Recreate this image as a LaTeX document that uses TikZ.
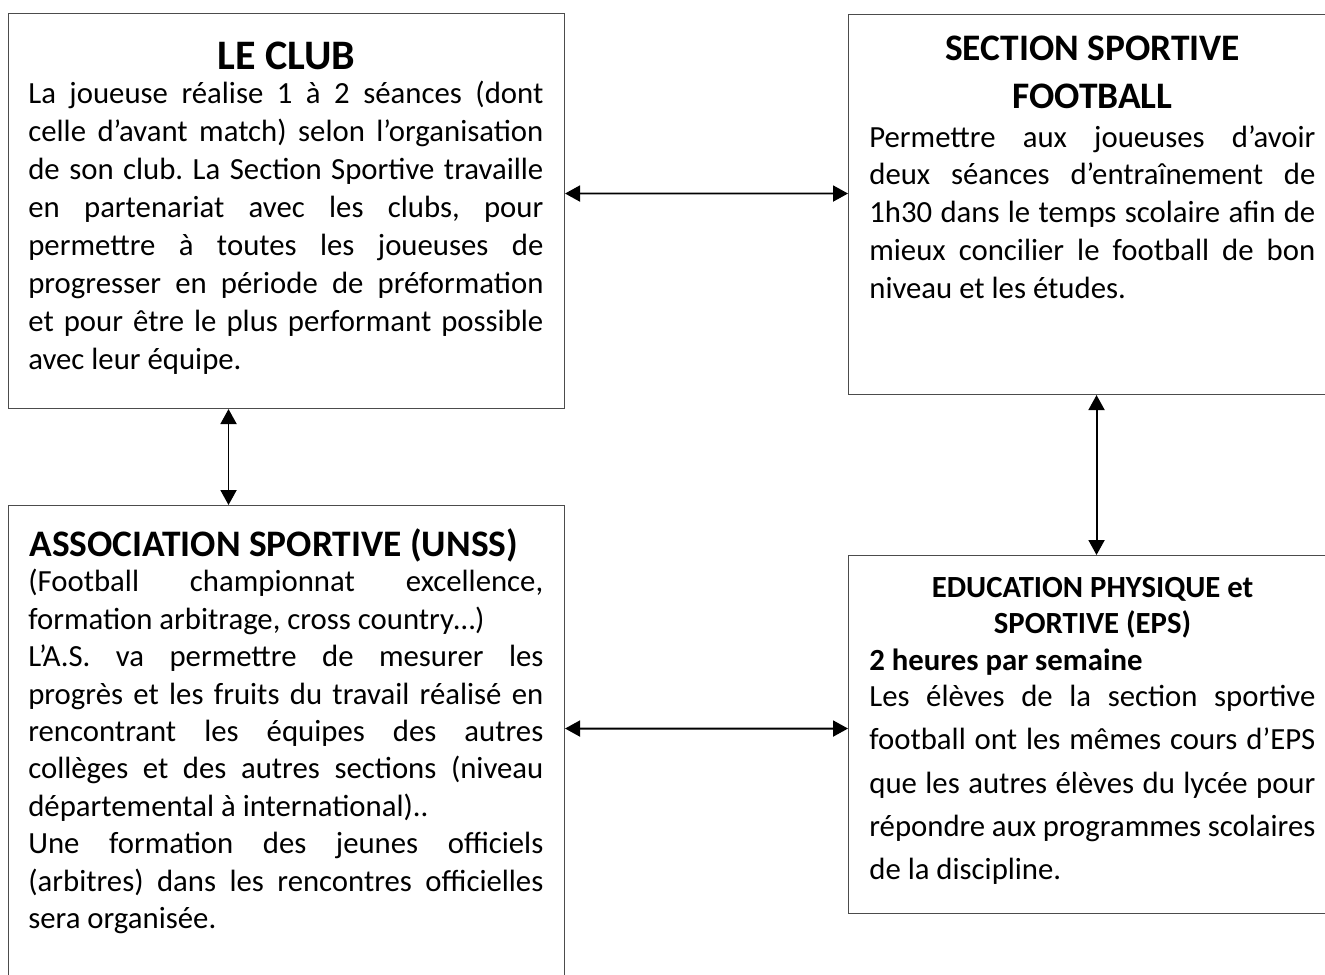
\documentclass[tikz,border=0pt]{standalone}
\usepackage{fontspec}
\setmainfont{Carlito}
\frenchspacing
\usetikzlibrary{arrows.meta}
\tikzset{
  box frame/.style={
    draw=black!70,
    line width=0.6pt,
    anchor=north west,
    inner sep=0pt
  },
  box title/.style={
    inner sep=0pt,
    align=center,
    font=\bfseries\fontsize{21.3}{27.2}\selectfont
  },
  box text/.style={
    anchor=north west,
    inner sep=0pt,
    align=justify,
    font=\fontsize{17.5}{21.6}\selectfont
  },
  link/.style={
    {Triangle[length=0.3cm,width=0.32cm]}-{Triangle[length=0.3cm,width=0.32cm]},
    line width=1.1pt
  }
}

\begin{document}
\begin{tikzpicture}
\useasboundingbox (0,0) rectangle (26.5,-19.48);
\node (club) at (0.16,-0.26) [box frame,minimum width=11.12cm,minimum height=7.9cm] {};
\node (section) at (16.96,-0.28) [box frame,minimum width=9.76cm,minimum height=7.6cm] {};
\node (as) at (0.16,-10.1) [box frame,minimum width=11.12cm,minimum height=9.8cm] {};
\node (eps) at (16.96,-11.1) [box frame,minimum width=9.76cm,minimum height=7.16cm] {};

\node (clubtitle) at ([yshift=-1.12cm]club.north) [box title,anchor=base,
  font=\bfseries\fontsize{23.9}{28}\selectfont] {LE CLUB};
\node (clubtext) at ([xshift=0.4cm,yshift=-1.36cm]club.north west) [box text,text width=10.3cm] {%
La joueuse réalise 1 à 2 séances (dont\linebreak
celle d’avant match) selon l’organisation\linebreak
de son club. La Section Sportive travaille\linebreak
en partenariat avec les clubs, pour\linebreak
permettre à toutes les joueuses de\linebreak
progresser en période de préformation\linebreak
et pour être le plus performant possible\linebreak
avec leur équipe.};

\node (sectiontitle) at ([yshift=-0.44cm]section.north) [box title,anchor=north]
  {SECTION SPORTIVE\\FOOTBALL};
\node (sectiontext) at ([xshift=0.42cm,yshift=-2.22cm]section.north west) [box text,text width=8.92cm] {%
Permettre aux joueuses d’avoir\linebreak
deux séances d’entraînement de\linebreak
1h30 dans le temps scolaire afin de\linebreak
mieux concilier le football de bon\linebreak
niveau et les études.};

\node (astitle) at ([xshift=0.42cm,yshift=-1.02cm]as.north west) [box title,anchor=base west]
  {ASSOCIATION SPORTIVE (UNSS)};
\node (astext) at ([xshift=0.4cm,yshift=-1.28cm]as.north west) [box text,text width=10.3cm,
  font=\fontsize{17.5}{21.3}\selectfont] {%
(Football championnat excellence,\linebreak
formation arbitrage, cross country…)\par
L’A.S. va permettre de mesurer les\linebreak
progrès et les fruits du travail réalisé en\linebreak
rencontrant les équipes des autres\linebreak
collèges et des autres sections (niveau\linebreak
départemental à international)..\par
Une formation des jeunes officiels\linebreak
(arbitres) dans les rencontres officielles\linebreak
sera organisée.};

\node (epstitle) at ([yshift=-1.05cm]eps.north) [box title,
  font=\bfseries\fontsize{17.5}{20.5}\selectfont] {EDUCATION PHYSIQUE et\\SPORTIVE (EPS)};
\node (epsweek) at ([xshift=0.42cm,yshift=-2.3cm]eps.north west) [box title,anchor=base west,
  font=\bfseries\fontsize{17.5}{21.4}\selectfont] {2 heures par semaine};
\node (epstext) at ([xshift=0.42cm,yshift=-2.6cm]eps.north west) [box text,text width=8.92cm,
  font=\fontsize{17.5}{24.6}\selectfont] {%
Les élèves de la section sportive\linebreak
football ont les mêmes cours d’EPS\linebreak
que les autres élèves du lycée pour\linebreak
répondre aux programmes scolaires\linebreak
de la discipline.};

\draw [link] ([yshift=0.35cm]club.east) -- ([yshift=0.22cm]section.west);
\draw [link] ([xshift=-1.16cm]club.south) -- ([xshift=-1.16cm]as.north);
\draw [link] ([xshift=0.08cm]section.south) -- ([xshift=0.08cm]eps.north);
\draw [link] ([yshift=0.44cm]as.east) -- ([yshift=0.12cm]eps.west);
\end{tikzpicture}
\end{document}
